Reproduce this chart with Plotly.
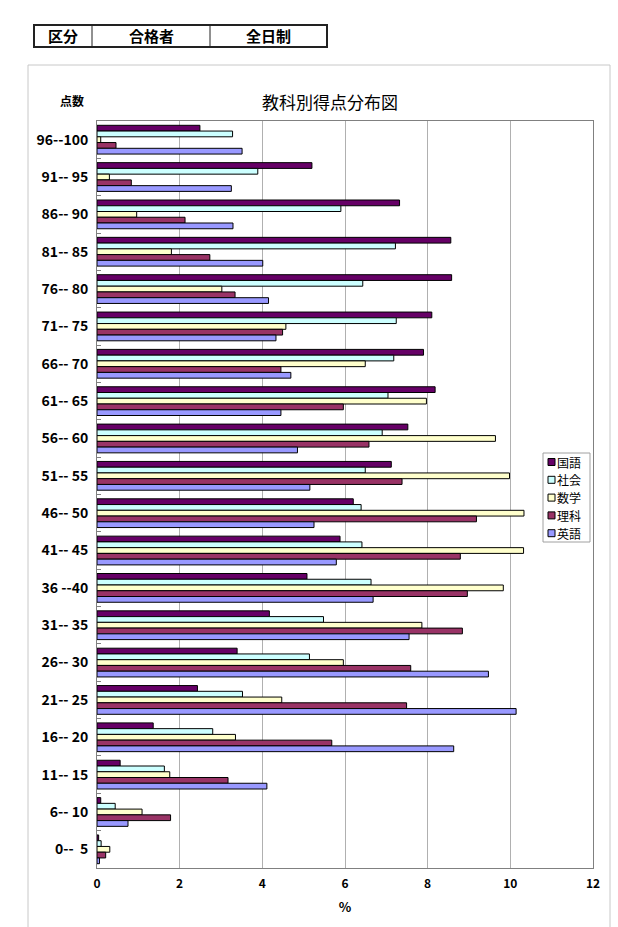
import plotly.graph_objects as go

NB = "\u00a0"
categories = ["96--100", "91--" + NB + "95", "86--" + NB + "90", "81--" + NB + "85", "76--" + NB + "80",
              "71--" + NB + "75", "66--" + NB + "70", "61--" + NB + "65", "56--" + NB + "60", "51--" + NB + "55",
              "46--" + NB + "50", "41--" + NB + "45", "36" + NB + "--40", "31--" + NB + "35", "26--" + NB + "30",
              "21--" + NB + "25", "16--" + NB + "20", "11--" + NB + "15", "6--" + NB + "10", "0--" + NB * 2 + "5"]

kokugo = [2.49, 5.20, 7.32, 8.56, 8.58, 8.10, 7.90, 8.18, 7.52, 7.12, 6.20, 5.88, 5.08, 4.17, 3.39, 2.43, 1.36, 0.56, 0.09, 0.04]
shakai = [3.28, 3.89, 5.90, 7.22, 6.43, 7.24, 7.18, 7.04, 6.90, 6.49, 6.39, 6.41, 6.63, 5.48, 5.14, 3.52, 2.80, 1.63, 0.44, 0.10]
sugaku = [0.09, 0.30, 0.96, 1.80, 3.02, 4.57, 6.49, 7.97, 9.64, 9.98, 10.33, 10.32, 9.83, 7.86, 5.96, 4.47, 3.35, 1.76, 1.09, 0.31]
rika   = [0.46, 0.83, 2.13, 2.73, 3.34, 4.49, 4.45, 5.96, 6.58, 7.38, 9.18, 8.79, 8.96, 8.84, 7.59, 7.49, 5.68, 3.17, 1.78, 0.21]
eigo   = [3.51, 3.25, 3.29, 4.01, 4.15, 4.33, 4.69, 4.45, 4.85, 5.15, 5.25, 5.79, 6.68, 7.55, 9.47, 10.14, 8.63, 4.11, 0.75, 0.06]

series_names = ["国語", "社会", "数学", "理科", "英語"]
series_values = [kokugo, shakai, sugaku, rika, eigo]
series_colors = ["#660066", "#CCFFFF", "#FFFFCC", "#993366", "#9999FF"]

x_ticks = [0, 2, 4, 6, 8, 10, 12]

FONT = "Noto Sans CJK JP"
W, H = 618, 927
L, R, T, B = 97, 593, 121, 868


def px(x):
    return (x - L) / (R - L)


def py(y):
    return (B - y) / (B - T)


fig = go.Figure()
for name, vals, col in zip(series_names, series_values, series_colors):
    fig.add_trace(go.Bar(
        y=categories, x=vals, name=name, orientation="h",
        marker=dict(color=col, line=dict(color="#000000", width=1)),
        showlegend=False,
    ))

shapes = [
    # outer chart frame
    dict(type="rect", xref="paper", yref="paper", x0=px(28), x1=px(610), y0=py(940), y1=py(65),
         line=dict(color="#c8c8c8", width=1), layer="below"),
    # header table
    dict(type="rect", xref="paper", yref="paper", x0=px(34), x1=px(327), y0=py(47), y1=py(25),
         line=dict(color="#222222", width=2)),
    dict(type="line", xref="paper", yref="paper", x0=px(92), x1=px(92), y0=py(47), y1=py(25),
         line=dict(color="#222222", width=1)),
    dict(type="line", xref="paper", yref="paper", x0=px(210), x1=px(210), y0=py(47), y1=py(25),
         line=dict(color="#222222", width=1)),
    # legend box
    dict(type="rect", xref="paper", yref="paper", x0=px(543), x1=px(590), y0=py(542), y1=py(453),
         line=dict(color="#a0a0a0", width=1), fillcolor="white"),
]


def ann(text, x, y, size, bold=False, xanchor="center", color="#000"):
    f = dict(family=FONT, size=size, color=color)
    if bold:
        f["weight"] = "bold"
    return dict(text=text, x=px(x), y=py(y), xref="paper", yref="paper", showarrow=False,
                xanchor=xanchor, yanchor="middle", font=f, borderpad=0)


annotations = [
    ann("区分", 63, 36, 15, True),
    ann("合格者", 151, 36, 15, True),
    ann("全日制", 268, 36, 15, True),
    ann("教科別得点分布図", 330, 102, 17),
    ann("点数", 72, 100, 12, True),
]

# compact legend (box + swatches + labels)
leg_y0, leg_dy = 462, 17.8
for i, (name, col) in enumerate(zip(series_names, series_colors)):
    yc = leg_y0 + i * leg_dy
    shapes.append(dict(type="rect", xref="paper", yref="paper",
                       x0=px(548), x1=px(555), y0=py(yc + 3.5), y1=py(yc - 3.5),
                       line=dict(color="#000", width=1), fillcolor=col))
    annotations.append(ann(name, 556, yc, 12, xanchor="left"))

fig.update_layout(
    width=W, height=H,
    margin=dict(l=L, r=W - R, t=T, b=H - B, autoexpand=False),
    paper_bgcolor="white", plot_bgcolor="white",
    barmode="group", bargap=0.23, bargroupgap=0,
    font=dict(family=FONT, color="#000"),
    showlegend=False,
    shapes=shapes, annotations=annotations,
)
fig.update_xaxes(range=[0, 12], tickvals=x_ticks, showgrid=True, gridcolor="#b0b0b0", gridwidth=1,
                 showline=True, linecolor="#808080", mirror=True, zeroline=False,
                 ticks="", ticklabelstandoff=5, tickfont=dict(family=FONT, size=12, weight="bold"),
                 title=dict(text="%", font=dict(family=FONT, size=13, weight="bold"), standoff=12))
fig.update_yaxes(autorange="reversed", type="category", showline=True, linecolor="#808080", mirror=True,
                 ticks="inside", tickson="boundaries", ticklen=4, tickcolor="#808080", showgrid=False,
                 ticklabelstandoff=5,
                 tickfont=dict(family=FONT, size=14, weight="bold"))

fig.write_html("out.html")
